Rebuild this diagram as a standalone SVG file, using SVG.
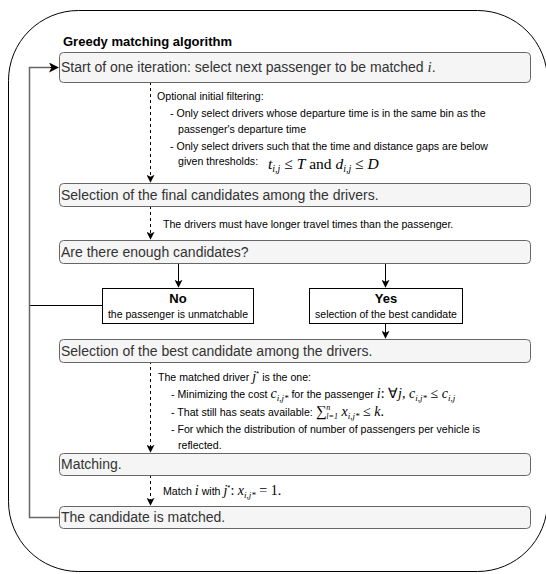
<svg xmlns="http://www.w3.org/2000/svg" width="546" height="574" viewBox="0 0 546 574">
<defs>
<style>
.box{fill:#f5f5f5;stroke:#666;stroke-width:1}
.wbox{fill:#fff;stroke:#000;stroke-width:1}
.t{font-family:"Liberation Sans",Arial,sans-serif;font-size:14px;fill:#333}
.a{font-family:"Liberation Sans",Arial,sans-serif;font-size:10.6px;fill:#000}
.b{font-family:"Liberation Sans",Arial,sans-serif;font-size:13px;font-weight:bold;fill:#000}
.s{font-family:"Liberation Sans",Arial,sans-serif;font-size:10.5px;fill:#000}
.m{font-family:"Liberation Serif","Times New Roman",serif;font-style:italic}
.r{font-family:"Liberation Serif","Times New Roman",serif;font-style:normal}
.dash{fill:none;stroke:#000;stroke-width:1;stroke-dasharray:3 3}
.solid{fill:none;stroke:#000;stroke-width:1}
.fb{fill:none;stroke:#666;stroke-width:1.5}
</style>
<marker id="ah" viewBox="0 0 10 10" refX="9" refY="5" markerWidth="8" markerHeight="8" markerUnits="userSpaceOnUse" orient="auto">
<path d="M0,0 L10,5 L0,10 L2.5,5 Z" fill="#000"/>
</marker>
<marker id="ah2" viewBox="0 0 10 10" refX="9" refY="5" markerWidth="10" markerHeight="10" markerUnits="userSpaceOnUse" orient="auto">
<path d="M0,0 L10,5 L0,10 L2.5,5 Z" fill="#000"/>
</marker>
</defs>
<rect x="8.5" y="10.5" width="539" height="561" rx="70" ry="70" fill="#fff" stroke="#000" stroke-width="1"/>
<text class="b" x="63" y="46">Greedy matching algorithm</text>

<g id="connectors">
<path class="dash" d="M150.5,82 V182" marker-end="url(#ah)"/>
<path class="dash" d="M150.5,206 V239" marker-end="url(#ah)"/>
<path class="solid" d="M178.5,263 V287" marker-end="url(#ah)"/>
<path class="solid" d="M385.5,263 V287" marker-end="url(#ah)"/>
<path class="solid" d="M385.5,323 V338" marker-end="url(#ah)"/>
<path class="solid" d="M102,305.5 H29"/>
<path class="dash" d="M150.5,361 V452" marker-end="url(#ah)"/>
<path class="dash" d="M150.5,475 V505" marker-end="url(#ah)"/>
<path class="fb" d="M59,517.5 H29.5 V67.5 H50"/>
<path class="solid" d="M50,67.5 H58" marker-end="url(#ah2)"/>
<text class="a" x="157" y="100">Optional initial filtering:</text>
<text class="a" x="170" y="116.5">- Only select drivers whose departure time is in the same bin as the</text>
<text class="a" x="178" y="133">passenger's departure time</text>
<text class="a" x="170" y="149.5">- Only select drivers such that the time and distance gaps are below</text>
<text class="a" x="178" y="165">given thresholds:</text>
<text class="m" x="268" y="169" font-size="15.5">t<tspan font-size="10" dy="3">i,j</tspan><tspan class="r" dy="-3"> ≤ </tspan>T<tspan class="r"> and </tspan>d<tspan font-size="10" dy="3">i,j</tspan><tspan class="r" dy="-3"> ≤ </tspan>D</text>
<text class="a" x="163" y="228">The drivers must have longer travel times than the passenger.</text>
<text class="a" x="158" y="381">The matched driver <tspan class="m" font-size="14">j</tspan><tspan font-size="8" dy="-5">*</tspan><tspan dy="5"> is the one:</tspan></text>
<text class="a" x="171" y="398">- Minimizing the cost <tspan class="m" font-size="14">c</tspan><tspan class="m" font-size="9" dy="3">i,j*</tspan><tspan dy="-3"> for the passenger </tspan><tspan class="m" font-size="14">i</tspan><tspan class="r" font-size="14">: ∀</tspan><tspan class="m" font-size="14">j</tspan><tspan class="r" font-size="14">, </tspan><tspan class="m" font-size="14">c</tspan><tspan class="m" font-size="9" dy="3">i,j*</tspan><tspan class="r" font-size="14" dy="-3"> ≤ </tspan><tspan class="m" font-size="14">c</tspan><tspan class="m" font-size="9" dy="3">i,j</tspan></text>
<text class="a" x="171" y="415.5">- That still has seats available: <tspan class="r" font-size="15">∑</tspan><tspan class="m" font-size="8" dy="-6">n</tspan><tspan class="m" font-size="8" dx="-4" dy="9">l=1</tspan><tspan class="m" font-size="14" dy="-3"> x</tspan><tspan class="m" font-size="9" dy="3">i,j*</tspan><tspan class="r" font-size="14" dy="-3"> ≤ </tspan><tspan class="m" font-size="14">k</tspan><tspan class="r" font-size="14">.</tspan></text>
<text class="a" x="171" y="433">- For which the distribution of number of passengers per vehicle is</text>
<text class="a" x="178" y="449">reflected.</text>
<text class="a" x="163" y="495">Match <tspan class="m" font-size="14">i</tspan> with <tspan class="m" font-size="14">j</tspan><tspan font-size="8" dy="-5">*</tspan><tspan class="r" font-size="14" dy="5">: </tspan><tspan class="m" font-size="14">x</tspan><tspan class="m" font-size="9" dy="3">i,j*</tspan><tspan class="r" font-size="14" dy="-3"> = 1.</tspan></text>
</g>

<g id="n1"><rect class="box" x="59.5" y="52.5" width="471" height="30" rx="4"/><text class="t" x="61" y="72">Start of one iteration: select next passenger to be matched <tspan class="m" font-size="15">i</tspan>.</text></g>
<g id="n2"><rect class="box" x="59.5" y="183.5" width="471" height="23" rx="4"/><text class="t" x="61" y="200">Selection of the final candidates among the drivers.</text></g>
<g id="n3"><rect class="box" x="59.5" y="240.5" width="471" height="23" rx="4"/><text class="t" x="61" y="257">Are there enough candidates?</text></g>
<g id="no"><rect class="wbox" x="102.5" y="288.5" width="151" height="35"/><text class="b" x="178" y="303" text-anchor="middle">No</text><text class="s" x="178" y="318" text-anchor="middle">the passenger is unmatchable</text></g>
<g id="yes"><rect class="wbox" x="309.5" y="288.5" width="153" height="35"/><text class="b" x="386" y="303" text-anchor="middle">Yes</text><text class="s" x="386" y="318" text-anchor="middle">selection of the best candidate</text></g>
<g id="n4"><rect class="box" x="59.5" y="339.5" width="471" height="23" rx="4"/><text class="t" x="61" y="356">Selection of the best candidate among the drivers.</text></g>
<g id="n5"><rect class="box" x="59.5" y="453.5" width="471" height="22" rx="4"/><text class="t" x="61" y="469">Matching.</text></g>
<g id="n6"><rect class="box" x="59.5" y="506.5" width="471" height="22" rx="4"/><text class="t" x="61" y="522">The candidate is matched.</text></g>
</svg>
